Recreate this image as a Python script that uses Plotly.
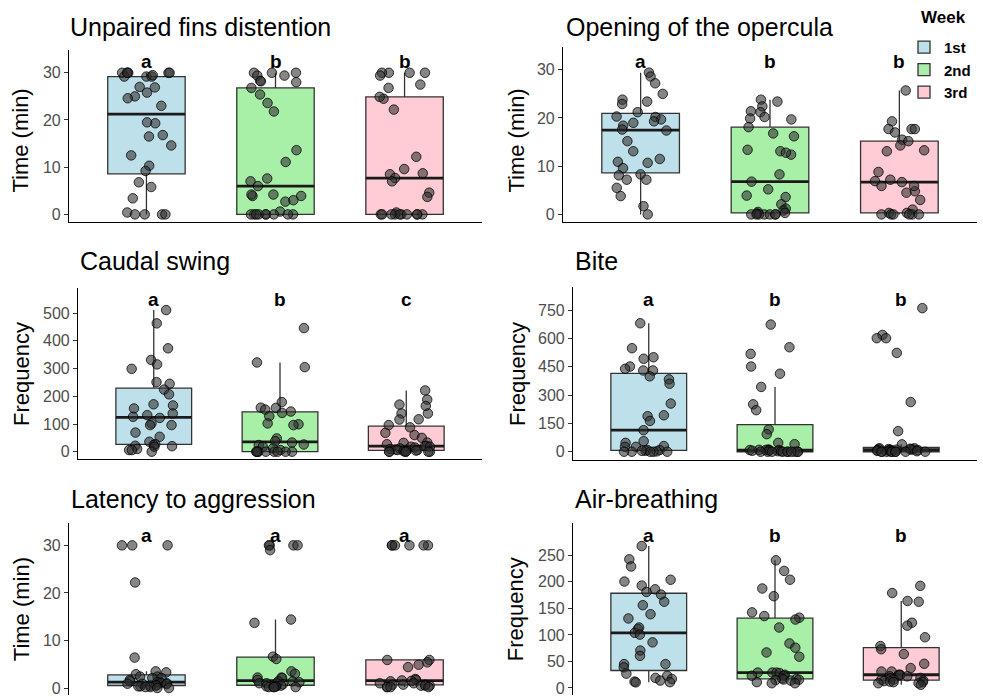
import numpy as np
import plotly.graph_objects as go

# ---------------- data ----------------
weeks = ["1st", "2nd", "3rd"]

fins_w1 = [30, 29.2, 29.2, 30, 30, 30, 29.2, 30, 30, 29.5, 27.0, 25.8, 26.9, 25.0, 24.6, 23.0,
           19.3, 19.5, 16.8, 16.5, 14.6, 12.5, 10.3, 9.2, 6.8, 5.8, 3.4, 0, 0, 0.4, 0, 0]
fins_w2 = [30, 30, 30, 29.4, 29.4, 28.3, 28.0, 28.2, 26.8, 25.4, 23.6, 21.8, 13.6, 11.1, 7.6, 7.0,
           6.0, 3.9, 4.2, 2.7, 3.9, 4.2, 3.0, 0.6, 0, 0, 0, 0, 0, 0, 0, 0, 0]
fins_w3 = [30, 30, 30, 30, 29.4, 27.5, 26.8, 24.5, 24.9, 22.2, 12.2, 9.6, 8.7, 8.5, 7.7, 7.0, 4.6,
           3.7, 0.4, 0, 0, 0, 0, 0, 0, 0, 0, 0, 0]

oper_w1 = [29.4, 28.6, 27.2, 25.0, 23.8, 23.4, 22.9, 21.2, 20.2, 19.7, 19.3, 20.3, 19.0, 18.4, 17.4,
           17.6, 15.2, 13.1, 10.9, 11.5, 10.7, 9.6, 8.3, 8.1, 7.2, 7.2, 5.5, 3.8, 1.7, 0]
oper_w2 = [23.8, 23.4, 22.4, 21.4, 21.2, 20.2, 19.7, 19.9, 18.1, 16.8, 16.2, 12.4, 13.1, 13.4, 12.8,
           8.3, 6.8, 5.2, 3.9, 3.6, 2.1, 1.2, 0.8, 0.5, 0.3, 0.2, 0, 0, 0, 0, 0, 0, 0]
oper_w3 = [25.7, 19.3, 17.7, 17.7, 17.7, 17.0, 15.5, 15.2, 14.3, 13.1, 13.3, 8.8, 7.2, 6.7, 6.9, 5.9,
           4.8, 5.9, 4.5, 3.0, 1.0, 0.3, 0.3, 0, 0, 0, 0, 0, 0]

caud_w1 = [511, 463, 373, 331, 315, 299, 251, 245, 224, 207, 171, 167, 156, 138, 132, 126, 122, 102,
           96, 96, 69, 54, 36, 27.5, 24, 21.5, 18, 20, 10, 6, 6, 0]
caud_w2 = [446, 322, 305, 179, 159, 158, 152, 145, 140, 128, 102, 99, 96, 48, 38, 33, 26, 24, 18, 12,
           6, 0, 0, 0, 0, 0, 0, 0, 0, 0]
caud_w3 = [221, 188, 170, 165, 138, 138, 117, 116, 96, 88, 68, 60, 50, 33, 32, 27, 21, 20, 18, 18,
           15, 12, 10, 8, 6, 6, 4, 3, 2, 0, 0, 0, 0, 0, 0]

bite_w1 = [680, 548, 500, 492, 451, 439, 430, 430, 399, 383, 360, 255, 193, 188, 163, 114, 56, 47,
           30, 26, 26, 10, 9, 5, 5, 2, 0, 0, 0, 0, 0]
bite_w2 = [673, 553, 518, 451, 413, 343, 251, 220, 118, 93, 47, 40, 12, 10, 9, 9, 9, 9, 6, 5, 3, 2,
           0, 0, 0, 0, 0, 0, 0, 0, 0, 0]
bite_w3 = [760, 618, 601, 601, 523, 263, 109, 39, 18, 18, 16, 15, 14, 12, 12, 11, 10, 9, 9, 8, 6, 5,
           3, 0, 0, 0, 0, 0, 0, 0, 0, 0]

lat_w1 = [30, 30, 30, 22.2, 6.4, 3.5, 3.3, 2.9, 2.4, 2.4, 2.1, 2.1, 1.7, 1.4, 1.3, 1.2, 1.0, 1.0,
          0.9, 0.9, 0.8, 0.6, 0.5, 0.5, 0.35, 0.35, 0.2, 0.2, 0, 0]
lat_w2 = [30, 30, 30, 30, 29, 14.4, 13.7, 6.6, 6.1, 3.5, 3.0, 2.2, 2.2, 2.1, 1.7, 1.4, 1.4, 1.2, 1.0,
          1.0, 1.0, 0.8, 0.5, 0.35, 0.35, 0.35, 0.2, 0.2, 0.2, 0.2]
lat_w3 = [30, 30, 30, 30, 30, 30, 5.9, 5.9, 5.4, 4.9, 4.4, 1.9, 1.7, 1.6, 1.5, 1.4, 1.0, 1.0, 0.7,
          0.7, 0.7, 0.5, 0.5, 0.5, 0.2, 0.2, 0.2, 0.2]

air_w1 = [267.5, 242.5, 229, 200.6, 204, 193, 186, 181, 176, 162.5, 156, 139, 131, 111, 104, 114,
          100.6, 86, 70.6, 60.6, 45, 45, 39, 27, 23, 19, 14, 17, 12, 11, 10.6]
air_w2 = [240.6, 220.6, 204, 187.5, 173, 142.5, 135.6, 132.5, 129, 114, 84, 76, 67, 59, 29, 29, 29,
          28, 25, 23, 23, 18, 17, 16, 15.6, 15, 14, 11, 9, 9]
air_w3 = [192.5, 179, 164, 162.5, 123, 117.5, 95.6, 79, 73, 64, 45.6, 37.5, 31, 31, 25, 25, 24, 22,
          22, 19, 18, 15.6, 15.6, 14, 13, 12, 11, 11, 9, 9, 6]

titles = ["Unpaired fins distention", "Opening of the opercula", "Caudal swing",
          "Bite", "Latency to aggression", "Air-breathing"]
ylabels = ["Time (min)", "Time (min)", "Frequency", "Frequency", "Time (min)", "Frequency"]
letters = [["a", "b", "b"], ["a", "b", "b"], ["a", "b", "c"],
           ["a", "b", "b"], ["a", "a", "a"], ["a", "b", "b"]]
tickvals = [[0, 10, 20, 30], [0, 10, 20, 30], [0, 100, 200, 300, 400, 500],
            [0, 150, 300, 450, 600, 750], [0, 10, 20, 30], [0, 50, 100, 150, 200, 250]]
series = [[fins_w1, fins_w2, fins_w3], [oper_w1, oper_w2, oper_w3],
          [caud_w1, caud_w2, caud_w3], [bite_w1, bite_w2, bite_w3],
          [lat_w1, lat_w2, lat_w3], [air_w1, air_w2, air_w3]]

# ---------------- style / layout ----------------
W, H = 983, 697
FONT = "Liberation Sans, Arial, sans-serif"
fills = ["#BEE0EA", "#A8EFA8", "#FFCBD5"]
JITTER_WIDTH = 0.2  # like geom_jitter(width = 0.2)

# panel geometry in pixels: (left, right, top, bottom), y range
panel_px = [(69, 482, 50.5, 222.8), (563, 977, 47, 223),
            (78, 482, 289, 460.8), (573, 977, 288, 461),
            (69, 482, 525, 697), (573, 977, 525, 697)]
yranges = [[-1.65, 34.75], [-1.65, 34.75], [-28, 590], [-42, 871], [-1.47, 34.6], [-13.2, 310]]
letter_y = [32.3, 31.8, 550, 808, 32.1, 287]
title_px = [(68, 27), (564, 27), (78, 262), (573, 262), (69, 500), (573, 500)]
ylab_px = [(21, 141), (517, 141), (22, 375), (518, 375), (21, 611), (515, 611)]


def px2x(p):
    return p / W


def px2y(p):
    return 1 - p / H


def box_stats(v):
    a = np.asarray(v, dtype=float)
    q1, med, q3 = np.percentile(a, [25, 50, 75])
    iqr = q3 - q1
    lo = a[a >= q1 - 1.5 * iqr].min()
    hi = a[a <= q3 + 1.5 * iqr].max()
    return q1, med, q3, lo, hi


rng = np.random.default_rng(11)  # horizontal jitter only (display), as geom_jitter does

fig = go.Figure()
layout = dict(width=W, height=H, margin=dict(l=0, r=0, t=0, b=0),
              paper_bgcolor="white", plot_bgcolor="white",
              boxmode="overlay", font=dict(family=FONT, color="black"),
              annotations=[], showlegend=True)

for i in range(6):
    n = i + 1
    xa = "x" if n == 1 else f"x{n}"
    ya = "y" if n == 1 else f"y{n}"
    for k in range(3):
        data = series[i][k]
        q1, med, q3, lo, hi = box_stats(data)
        fig.add_trace(go.Box(
            x=[k + 1], q1=[q1], median=[med], q3=[q3], lowerfence=[lo], upperfence=[hi],
            width=0.6, whiskerwidth=0, fillcolor=fills[k],
            line=dict(color="#333333", width=1.3),
            name=weeks[k], legendgroup=weeks[k], showlegend=(i == 0),
            xaxis=xa, yaxis=ya, hoverinfo="skip"))
        fig.add_trace(go.Box(
            x=[k + 1], q1=[med], median=[med], q3=[med], lowerfence=[med], upperfence=[med],
            width=0.6, whiskerwidth=0, fillcolor="rgba(0,0,0,0)",
            line=dict(color="#1a1a1a", width=2.8),
            showlegend=False, xaxis=xa, yaxis=ya, hoverinfo="skip"))
        xj = (k + 1) + rng.uniform(-JITTER_WIDTH, JITTER_WIDTH, len(data))
        fig.add_trace(go.Scatter(
            x=xj, y=data, mode="markers",
            marker=dict(size=9.5, color="rgba(45,45,45,0.58)",
                        line=dict(color="rgba(0,0,0,0.75)", width=1)),
            showlegend=False, xaxis=xa, yaxis=ya, hoverinfo="skip", cliponaxis=False))
        layout["annotations"].append(dict(
            x=k + 1, y=letter_y[i], xref=xa, yref=ya, text=f"<b>{letters[i][k]}</b>",
            showarrow=False, font=dict(size=19, family=FONT, color="black"),
            xanchor="center", yanchor="middle"))

    l, r, t, b = panel_px[i]
    bottom_row = i >= 4
    layout["xaxis" if n == 1 else f"xaxis{n}"] = dict(
        domain=[px2x(l), px2x(r)], range=[0.4, 3.6], anchor=ya,
        showticklabels=False, ticks="", showgrid=False, zeroline=False,
        showline=not bottom_row, linecolor="black", linewidth=1.2, fixedrange=True)
    layout["yaxis" if n == 1 else f"yaxis{n}"] = dict(
        domain=[max(0, px2y(b)), px2y(t)], range=yranges[i], anchor=xa,
        tickvals=tickvals[i], ticks="outside", ticklen=4, tickwidth=1.1, tickcolor="#333333",
        tickfont=dict(size=16, family=FONT, color="#4D4D4D"), ticklabeloverflow="allow",
        showgrid=False, zeroline=False, showline=True, linecolor="black", linewidth=1.2,
        fixedrange=True)

    tx, ty = title_px[i]
    layout["annotations"].append(dict(
        x=px2x(tx), y=px2y(ty), xref="paper", yref="paper", text=titles[i],
        showarrow=False, xanchor="left", yanchor="middle",
        font=dict(size=25, family=FONT, color="black")))
    lx, ly = ylab_px[i]
    layout["annotations"].append(dict(
        x=px2x(lx), y=px2y(ly), xref="paper", yref="paper", text=ylabels[i],
        showarrow=False, xanchor="center", yanchor="middle", textangle=-90,
        font=dict(size=22, family=FONT, color="black")))

# legend title as text, legend entries below it
layout["annotations"].append(dict(
    x=px2x(919), y=px2y(18), xref="paper", yref="paper", text="<b>Week</b>",
    showarrow=False, xanchor="left", yanchor="middle",
    font=dict(size=17, family=FONT, color="black")))
layout["legend"] = dict(
    x=px2x(904), y=px2y(31), xanchor="left", yanchor="top",
    font=dict(size=15, family=FONT, color="black", weight="bold"),
    bgcolor="rgba(255,255,255,0)", itemwidth=30, tracegroupgap=0)

fig.update_layout(**layout)
fig.write_html("out.html", config={"displayModeBar": False},
               post_script="document.body.style.margin='0';document.body.style.padding='0';")
